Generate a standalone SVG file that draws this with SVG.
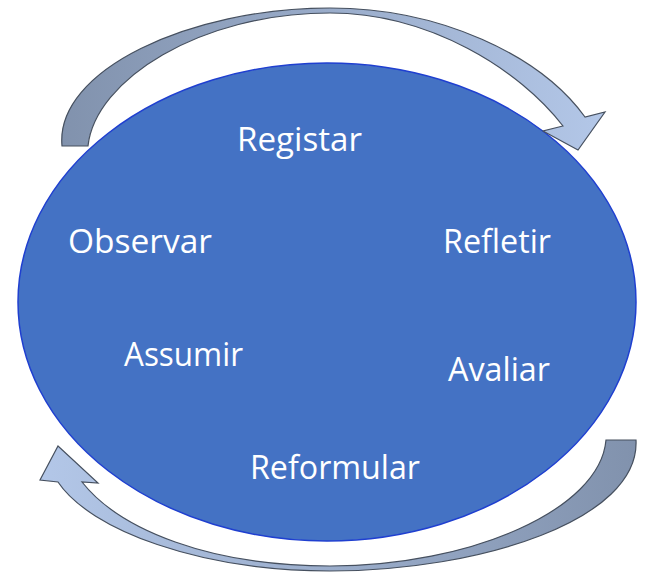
<svg xmlns="http://www.w3.org/2000/svg" width="656" height="580" viewBox="0 0 656 580">
<style>
.lbl{font-family:"Open Sans","Liberation Sans",sans-serif;font-size:33px;fill:#ffffff;text-anchor:start}
.arr{stroke:#46505f;stroke-width:1.2;stroke-linejoin:miter}
</style>
<defs>
<linearGradient id="gTop" x1="0" y1="0" x2="1" y2="0">
<stop offset="0" stop-color="#8192ad"/>
<stop offset="1" stop-color="#b3c7e8"/>
</linearGradient>
<linearGradient id="gBot" x1="0" y1="0" x2="1" y2="0">
<stop offset="0" stop-color="#b3c7e8"/>
<stop offset="1" stop-color="#8192ad"/>
</linearGradient>
</defs>
<rect width="656" height="580" fill="#ffffff"/>
<g id="cycle">
<ellipse cx="327" cy="302" rx="309" ry="239" fill="#4472c4" stroke="#1f3fd0" stroke-width="1.5"/>
</g>
<g id="connectors">
<path class="arr" fill="url(#gTop)" d="M62,146 C55,70 190,8 330,8 C440,8 540,55 585,117 L605,112 L578,150 L543,131 L563,126 C520,70 430,13 330,13 C200,13 95,80 88,146 Z"/>
<path class="arr" fill="url(#gBot)" d="M636,440 C640,520 480,571 330,571 C200,571 90,530 58,482 L40,480 L58,446 L98,483 L82,482 C120,530 210,566 330,566 C470,566 600,510 606,440 Z"/>
</g>
<g id="n-registar"><text class="lbl" x="237" y="151" textLength="125" lengthAdjust="spacingAndGlyphs">Registar</text></g>
<g id="n-observar"><text class="lbl" x="68" y="253" textLength="144" lengthAdjust="spacingAndGlyphs">Observar</text></g>
<g id="n-refletir"><text class="lbl" x="443" y="253" textLength="108" lengthAdjust="spacingAndGlyphs">Refletir</text></g>
<g id="n-assumir"><text class="lbl" x="124" y="366" textLength="119" lengthAdjust="spacingAndGlyphs">Assumir</text></g>
<g id="n-avaliar"><text class="lbl" x="448" y="381" textLength="102" lengthAdjust="spacingAndGlyphs">Avaliar</text></g>
<g id="n-reformular"><text class="lbl" x="250" y="479" textLength="170" lengthAdjust="spacingAndGlyphs">Reformular</text></g>
</svg>
